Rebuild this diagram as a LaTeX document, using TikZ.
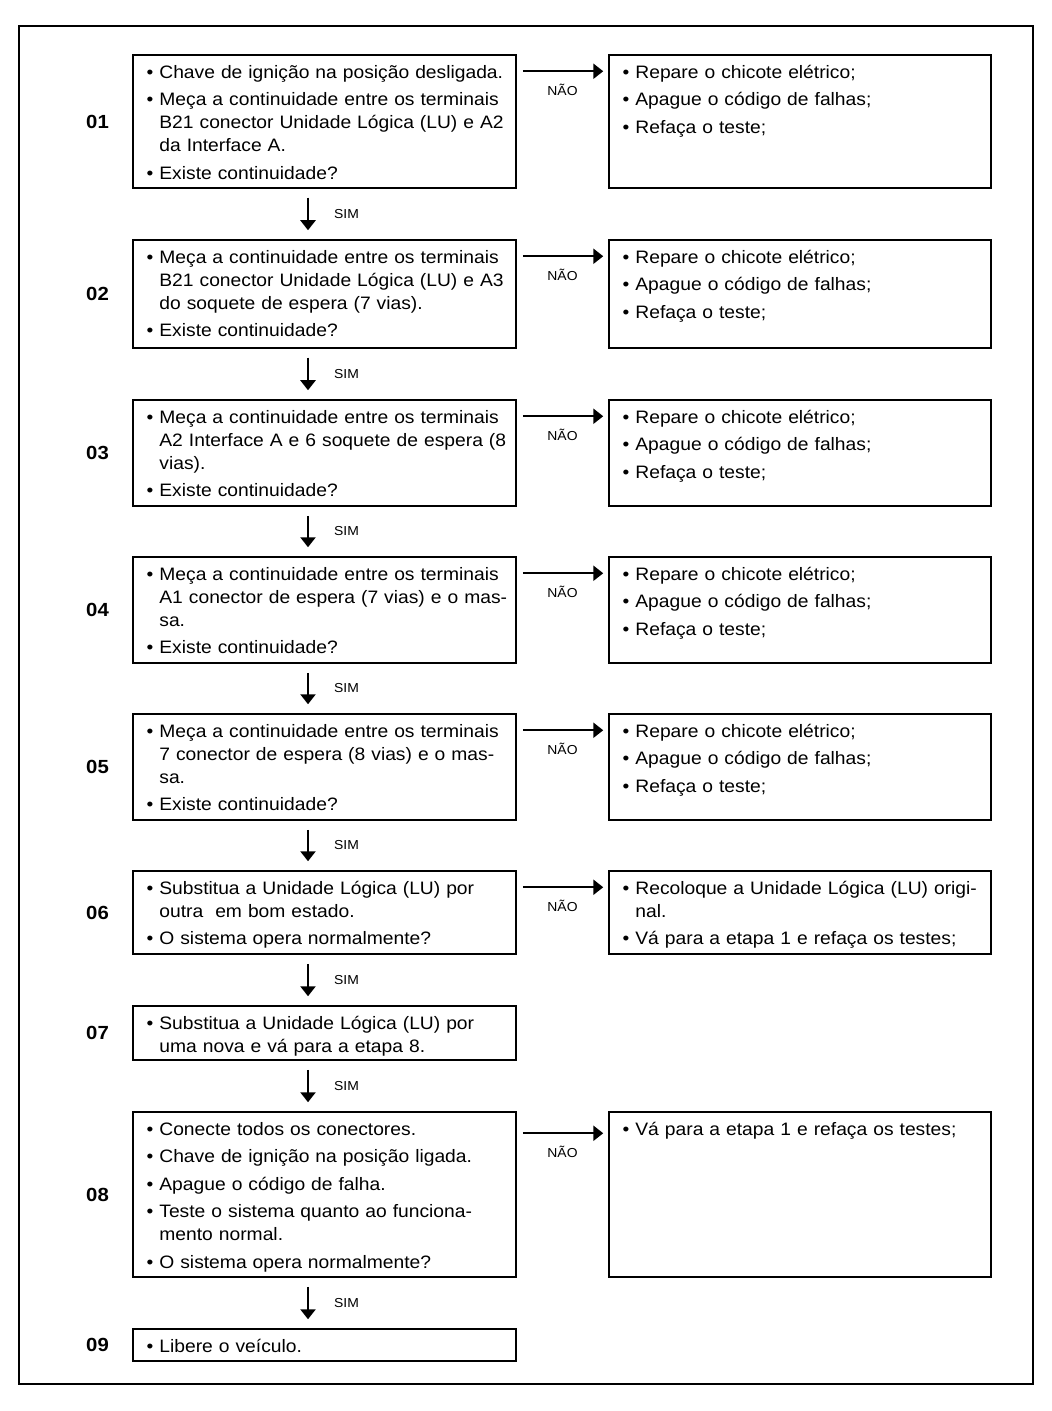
\documentclass[tikz,border=0pt]{standalone}
\usepackage{fontspec}
\setmainfont[FakeStretch=1.07]{Liberation Sans}
\usetikzlibrary{arrows.meta,positioning,fit}

\hbadness=10000
\hyphenpenalty=10000

\newlength\bulletw
\newcommand\bitem[1]{\parskip=2.25pt\settowidth\bulletw{\textbullet\ }%
  \hangindent=\bulletw\hangafter=1\noindent\strut\makebox[\bulletw][l]{\textbullet}#1\par}
\newcommand\fixlist{\bitem{Repare o chicote elétrico;}\bitem{Apague o código de falhas;}\bitem{Refaça o teste;}}

\tikzstyle{box}=[draw, line width=0.75pt, inner sep=0pt]
\tikzstyle{txt}=[anchor=north west, inner sep=0pt, text width=182pt, font=\fontsize{9}{11.5}\selectfont]
\tikzstyle{num}=[inner sep=0pt, font=\fontsize{9.5}{12}\selectfont\bfseries]
\tikzstyle{lbl}=[inner sep=0pt, font=\fontsize{6.5}{8}\selectfont]
\tikzstyle{arrow}=[line width=1.2pt, -{Triangle[length=5pt,width=7.5pt]}]
\tikzstyle{nao}=[arrow, shorten <=3pt, shorten >=2.5pt]
\tikzstyle{sim}=[arrow, shorten <=4.5pt, shorten >=4.5pt]

\begin{document}
\begin{tikzpicture}[x=0.5pt, y=-0.5pt]
  \useasboundingbox (0,0) rectangle (1052,1411);
  \draw[line width=1.2pt] (19,26) rectangle (1033,1384);

  % left column
  \node[box, fit={(133,55) (516,188)}] (l1) {};
  \node[box, fit={(133,240) (516,348)}] (l2) {};
  \node[box, fit={(133,400) (516,506)}] (l3) {};
  \node[box, fit={(133,557) (516,663)}] (l4) {};
  \node[box, fit={(133,714) (516,820)}] (l5) {};
  \node[box, fit={(133,871) (516,954)}] (l6) {};
  \node[box, fit={(133,1006) (516,1060)}] (l7) {};
  \node[box, fit={(133,1112) (516,1277)}] (l8) {};
  \node[box, fit={(133,1329) (516,1361)}] (l9) {};

  % right column
  \node[box, fit={(609,55) (991,188)}] (r1) {};
  \node[box, fit={(609,240) (991,348)}] (r2) {};
  \node[box, fit={(609,400) (991,506)}] (r3) {};
  \node[box, fit={(609,557) (991,663)}] (r4) {};
  \node[box, fit={(609,714) (991,820)}] (r5) {};
  \node[box, fit={(609,871) (991,954)}] (r6) {};
  \node[box, fit={(609,1112) (991,1277)}] (r8) {};

  % step numbers
  \node[num, left=11.5pt of l1] (n1) {01};
  \node[num, left=11.5pt of l2] (n2) {02};
  \node[num, left=11.5pt of l3] (n3) {03};
  \node[num, left=11.5pt of l4] (n4) {04};
  \node[num, left=11.5pt of l5] (n5) {05};
  \node[num, left=11.5pt of l6] (n6) {06};
  \node[num, left=11.5pt of l7] (n7) {07};
  \node[num, left=11.5pt of l8] (n8) {08};
  \node[num, left=11.5pt of l9] (n9) {09};

  % texts
  \node[txt] (t1) at ([shift={(7pt,-3.7pt)}]l1.north west) {\bitem{Chave de ignição na posição desligada.}\bitem{Meça a continuidade entre os terminais\newline B21 conector Unidade Lógica (LU) e A2\newline da Interface A.}\bitem{Existe continuidade?}};
  \node[txt] (t2) at ([shift={(7pt,-3.7pt)}]l2.north west) {\bitem{Meça a continuidade entre os terminais\newline B21 conector Unidade Lógica (LU) e A3\newline do soquete de espera (7 vias).}\bitem{Existe continuidade?}};
  \node[txt] (t3) at ([shift={(7pt,-3.7pt)}]l3.north west) {\bitem{Meça a continuidade entre os terminais\newline A2 Interface A e 6 soquete de espera (8\newline vias).}\bitem{Existe continuidade?}};
  \node[txt] (t4) at ([shift={(7pt,-3.7pt)}]l4.north west) {\bitem{Meça a continuidade entre os terminais\newline A1 conector de espera (7 vias) e o mas-\newline sa.}\bitem{Existe continuidade?}};
  \node[txt] (t5) at ([shift={(7pt,-3.7pt)}]l5.north west) {\bitem{Meça a continuidade entre os terminais\newline 7 conector de espera (8 vias) e o mas-\newline sa.}\bitem{Existe continuidade?}};
  \node[txt] (t6) at ([shift={(7pt,-3.7pt)}]l6.north west) {\bitem{Substitua a Unidade Lógica (LU) por\newline outra\ \ em bom estado.}\bitem{O sistema opera normalmente?}};
  \node[txt] (t7) at ([shift={(7pt,-3.7pt)}]l7.north west) {\bitem{Substitua a Unidade Lógica (LU) por\newline uma nova e vá para a etapa 8.}};
  \node[txt] (t8) at ([shift={(7pt,-3.7pt)}]l8.north west) {\bitem{Conecte todos os conectores.}\bitem{Chave de ignição na posição ligada.}\bitem{Apague o código de falha.}\bitem{Teste o sistema quanto ao funciona-\newline mento normal.}\bitem{O sistema opera normalmente?}};
  \node[txt] (t9) at ([shift={(7pt,-3.7pt)}]l9.north west) {\bitem{Libere o veículo.}};

  \node[txt] (s1) at ([shift={(7pt,-3.7pt)}]r1.north west) {\fixlist};
  \node[txt] (s2) at ([shift={(7pt,-3.7pt)}]r2.north west) {\fixlist};
  \node[txt] (s3) at ([shift={(7pt,-3.7pt)}]r3.north west) {\fixlist};
  \node[txt] (s4) at ([shift={(7pt,-3.7pt)}]r4.north west) {\fixlist};
  \node[txt] (s5) at ([shift={(7pt,-3.7pt)}]r5.north west) {\fixlist};
  \node[txt] (s6) at ([shift={(7pt,-3.7pt)}]r6.north west) {\bitem{Recoloque a Unidade Lógica (LU) origi-\newline nal.}\bitem{Vá para a etapa 1 e refaça os testes;}};
  \node[txt] (s8) at ([shift={(7pt,-3.7pt)}]r8.north west) {\bitem{Vá para a etapa 1 e refaça os testes;}};

  % NÃO arrows
  \draw[nao] ([yshift=-8.5pt]l1.north east) -- ([yshift=-8.5pt]r1.north west) node[lbl, midway, yshift=-9.5pt] {NÃO};
  \draw[nao] ([yshift=-8.5pt]l2.north east) -- ([yshift=-8.5pt]r2.north west) node[lbl, midway, yshift=-9.5pt] {NÃO};
  \draw[nao] ([yshift=-8.5pt]l3.north east) -- ([yshift=-8.5pt]r3.north west) node[lbl, midway, yshift=-9.5pt] {NÃO};
  \draw[nao] ([yshift=-8.5pt]l4.north east) -- ([yshift=-8.5pt]r4.north west) node[lbl, midway, yshift=-9.5pt] {NÃO};
  \draw[nao] ([yshift=-8.5pt]l5.north east) -- ([yshift=-8.5pt]r5.north west) node[lbl, midway, yshift=-9.5pt] {NÃO};
  \draw[nao] ([yshift=-8.5pt]l6.north east) -- ([yshift=-8.5pt]r6.north west) node[lbl, midway, yshift=-9.5pt] {NÃO};
  \draw[nao] ([yshift=-11pt]l8.north east) -- ([yshift=-11pt]r8.north west) node[lbl, midway, yshift=-9.5pt] {NÃO};

  % SIM arrows
  \draw[sim] ([xshift=-8.25pt]l1.south) -- ([xshift=-8.25pt]l2.north) node[lbl, midway, anchor=west, xshift=12.5pt] {SIM};
  \draw[sim] ([xshift=-8.25pt]l2.south) -- ([xshift=-8.25pt]l3.north) node[lbl, midway, anchor=west, xshift=12.5pt] {SIM};
  \draw[sim] ([xshift=-8.25pt]l3.south) -- ([xshift=-8.25pt]l4.north) node[lbl, midway, anchor=west, xshift=12.5pt] {SIM};
  \draw[sim] ([xshift=-8.25pt]l4.south) -- ([xshift=-8.25pt]l5.north) node[lbl, midway, anchor=west, xshift=12.5pt] {SIM};
  \draw[sim] ([xshift=-8.25pt]l5.south) -- ([xshift=-8.25pt]l6.north) node[lbl, midway, anchor=west, xshift=12.5pt] {SIM};
  \draw[sim] ([xshift=-8.25pt]l6.south) -- ([xshift=-8.25pt]l7.north) node[lbl, midway, anchor=west, xshift=12.5pt] {SIM};
  \draw[sim] ([xshift=-8.25pt]l7.south) -- ([xshift=-8.25pt]l8.north) node[lbl, midway, anchor=west, xshift=12.5pt] {SIM};
  \draw[sim] ([xshift=-8.25pt]l8.south) -- ([xshift=-8.25pt]l9.north) node[lbl, midway, anchor=west, xshift=12.5pt] {SIM};
\end{tikzpicture}
\end{document}
